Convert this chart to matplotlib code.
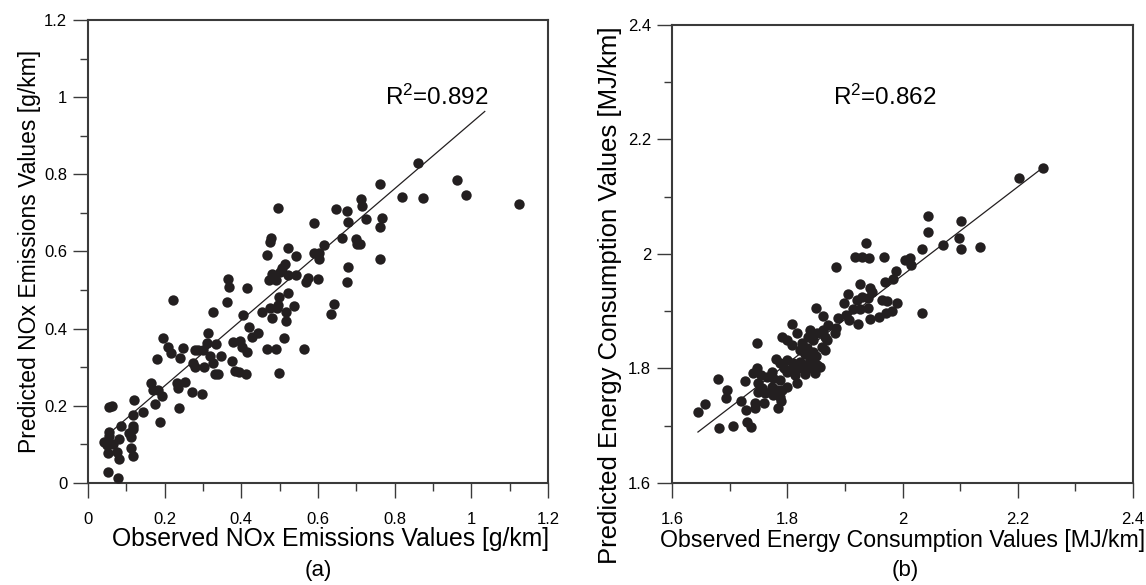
import matplotlib
matplotlib.use('Agg')
import matplotlib.pyplot as plt
from matplotlib.ticker import MultipleLocator, FuncFormatter

plt.rcParams['font.family'] = ['Liberation Sans', 'DejaVu Sans']
plt.rcParams['mathtext.fontset'] = 'custom'
plt.rcParams['mathtext.rm'] = 'Liberation Sans'
plt.rcParams['mathtext.default'] = 'regular'

# (a) NOx: observed vs predicted [g/km]
nox_obs = [0.222, 0.196, 0.209, 0.217, 0.248, 0.279, 0.287, 0.180, 0.240, 0.274,
           0.279, 0.164, 0.170, 0.183, 0.193, 0.175, 0.232, 0.235, 0.253, 0.271,
           0.297, 0.237, 0.055, 0.063, 0.120, 0.144, 0.188, 0.117, 0.086, 0.117,
           0.117, 0.107, 0.055, 0.055, 0.112, 0.081, 0.042, 0.050, 0.065, 0.112,
           0.052, 0.076, 0.117, 0.081, 0.052, 0.078,
           0.712, 0.715, 0.496, 0.647, 0.676, 0.590, 0.678, 0.725, 0.477, 0.475,
           0.522, 0.467, 0.543, 0.616, 0.590, 0.603, 0.603, 0.663, 0.699, 0.702,
           0.710, 0.678, 0.676, 0.514, 0.506, 0.501, 0.480, 0.522, 0.543, 0.472,
           0.490, 0.574, 0.569, 0.600, 0.365, 0.368, 0.415, 0.522, 0.498, 0.363,
           0.496, 0.493, 0.475, 0.454, 0.537, 0.642, 0.634, 0.326, 0.404, 0.517,
           0.517, 0.480, 0.420, 0.444, 0.428, 0.511, 0.564, 0.467, 0.490, 0.498,
           0.378, 0.397, 0.402, 0.415, 0.313, 0.310, 0.334, 0.300, 0.318, 0.347,
           0.376, 0.326, 0.303, 0.384, 0.394, 0.412, 0.331, 0.339,
           0.762, 0.861, 0.819, 0.874, 0.963, 0.986, 1.124, 0.767, 0.762, 0.762]
nox_pred = [0.474, 0.376, 0.353, 0.337, 0.350, 0.345, 0.345, 0.321, 0.324, 0.311,
            0.301, 0.259, 0.241, 0.241, 0.226, 0.205, 0.259, 0.246, 0.262, 0.236,
            0.231, 0.194, 0.197, 0.200, 0.215, 0.184, 0.158, 0.176, 0.148, 0.148,
            0.140, 0.130, 0.132, 0.122, 0.119, 0.114, 0.106, 0.098, 0.101, 0.091,
            0.078, 0.080, 0.070, 0.062, 0.029, 0.013,
            0.736, 0.718, 0.713, 0.710, 0.705, 0.674, 0.677, 0.684, 0.635, 0.625,
            0.609, 0.591, 0.588, 0.617, 0.596, 0.596, 0.581, 0.635, 0.632, 0.620,
            0.620, 0.560, 0.521, 0.568, 0.557, 0.547, 0.542, 0.539, 0.539, 0.526,
            0.526, 0.531, 0.521, 0.529, 0.529, 0.508, 0.505, 0.492, 0.482, 0.469,
            0.461, 0.454, 0.454, 0.443, 0.459, 0.464, 0.438, 0.443, 0.435, 0.443,
            0.420, 0.428, 0.404, 0.389, 0.378, 0.376, 0.347, 0.347, 0.347, 0.285,
            0.365, 0.368, 0.353, 0.340, 0.389, 0.363, 0.360, 0.345, 0.329, 0.329,
            0.316, 0.311, 0.301, 0.290, 0.288, 0.283, 0.283, 0.283,
            0.775, 0.829, 0.741, 0.739, 0.785, 0.746, 0.723, 0.687, 0.664, 0.581]
nox_fit_x = [0.057, 1.035]
nox_fit_y = [0.130, 0.963]

# (b) Energy consumption: observed vs predicted [MJ/km]
ec_obs = [2.244, 2.202, 2.135, 2.044, 2.102, 2.044, 2.098, 2.070, 2.102, 2.034,
          1.937, 1.918, 1.930, 1.942, 1.968, 2.005, 2.013, 2.015, 1.885, 1.989,
          1.984, 1.970, 1.926, 1.944, 1.947, 1.906, 1.899, 1.921, 1.930, 1.940,
          1.965, 1.973, 1.991, 1.982, 1.972, 1.959, 1.944, 2.034, 1.914, 1.926,
          1.940, 1.902, 1.907, 1.923, 1.888, 1.850, 1.862, 1.808, 1.817,
          1.871, 1.885, 1.883, 1.862, 1.866, 1.869, 1.860, 1.866, 1.857,
          1.748, 1.791, 1.800, 1.808, 1.836, 1.852, 1.822, 1.834, 1.845, 1.781,
          1.788, 1.800, 1.810, 1.822, 1.831, 1.840, 1.852, 1.748, 1.741, 1.755,
          1.774, 1.765, 1.775, 1.788, 1.800, 1.810, 1.814, 1.817, 1.848, 1.727,
          1.680, 1.749, 1.756, 1.749, 1.761, 1.774, 1.782, 1.775, 1.770, 1.791,
          1.788, 1.800, 1.695, 1.694, 1.720, 1.744, 1.744, 1.760, 1.789, 1.784,
          1.728, 1.645, 1.657, 1.682, 1.706, 1.730, 1.737,
          1.826, 1.840, 1.845, 1.830, 1.850, 1.838, 1.820, 1.795, 1.830]
ec_pred = [2.150, 2.133, 2.012, 2.066, 2.058, 2.038, 2.028, 2.016, 2.009, 2.009,
           2.019, 1.995, 1.995, 1.993, 1.995, 1.990, 1.993, 1.981, 1.977, 1.970,
           1.956, 1.951, 1.948, 1.941, 1.934, 1.930, 1.914, 1.920, 1.925, 1.923,
           1.920, 1.918, 1.914, 1.900, 1.897, 1.890, 1.886, 1.897, 1.904, 1.904,
           1.906, 1.893, 1.885, 1.878, 1.888, 1.906, 1.892, 1.878, 1.862,
           1.876, 1.871, 1.862, 1.867, 1.855, 1.850, 1.838, 1.832, 1.803,
           1.845, 1.855, 1.850, 1.841, 1.855, 1.862, 1.832, 1.836, 1.829, 1.817,
           1.810, 1.815, 1.810, 1.811, 1.806, 1.815, 1.806, 1.801, 1.792, 1.789,
           1.794, 1.785, 1.783, 1.780, 1.794, 1.801, 1.789, 1.775, 1.792, 1.778,
           1.782, 1.775, 1.766, 1.759, 1.757, 1.768, 1.762, 1.754, 1.759, 1.762,
           1.750, 1.768, 1.762, 1.748, 1.743, 1.740, 1.731, 1.740, 1.743, 1.731,
           1.728, 1.724, 1.738, 1.696, 1.700, 1.707, 1.698,
           1.845, 1.868, 1.850, 1.826, 1.822, 1.800, 1.800, 1.800, 1.790]
ec_fit_x = [1.645, 2.245]
ec_fit_y = [1.689, 2.152]

DOT = '#231f20'
SPINE = '#3a3a3a'

fig = plt.figure(figsize=(11.46, 5.85), dpi=100)
ax1 = fig.add_axes([0.0768, 0.1744, 0.4014, 0.7914])
ax2 = fig.add_axes([0.5864, 0.1744, 0.4023, 0.7829])

fmt = FuncFormatter(lambda v, p: f'{v:g}')


def style(ax, lo, hi):
    ax.set_xlim(lo, hi)
    ax.set_ylim(lo, hi)
    for a in (ax.xaxis, ax.yaxis):
        a.set_major_locator(MultipleLocator(0.2))
        a.set_minor_locator(MultipleLocator(0.1))
        a.set_major_formatter(fmt)
    ax.tick_params(which='major', direction='out', length=11, width=1,
                   color=SPINE, labelsize=12)
    ax.tick_params(which='minor', direction='out', length=6, width=1, color=SPINE)
    ax.tick_params(axis='x', which='major', pad=10)
    ax.tick_params(axis='y', which='major', pad=4)
    for s in ax.spines.values():
        s.set_color(SPINE)
        s.set_linewidth(1.5)


# (a)
ax1.scatter(nox_obs, nox_pred, s=56, color=DOT, linewidths=0, zorder=3)
ax1.plot(nox_fit_x, nox_fit_y, color='#231f20', lw=0.9, zorder=2)
style(ax1, 0, 1.2)
ax1.set_xlabel('Observed NOx Emissions Values [g/km]', fontsize=17.8)
ax1.xaxis.set_label_coords(0.527, -0.095)
ax1.set_ylabel('Predicted NOx Emissions Values [g/km]', fontsize=16.5, labelpad=2)
ax1.text(0.775, 1.0, 'R$^2$=0.892', fontsize=17.5, ha='left', va='center')
fig.text(0.2775, 0.025, '(a)', fontsize=16, ha='center', va='center')

# (b)
ax2.scatter(ec_obs, ec_pred, s=56, color=DOT, linewidths=0, zorder=3)
ax2.plot(ec_fit_x, ec_fit_y, color='#231f20', lw=0.9, zorder=2)
style(ax2, 1.6, 2.4)
ax2.set_xlabel('Observed Energy Consumption Values [MJ/km]', fontsize=16.7, labelpad=1)
ax2.set_ylabel('Predicted Energy Consumption Values [MJ/km]', fontsize=18.5)
ax2.yaxis.set_label_coords(-0.108, 0.41)
ax2.text(1.88, 2.274, 'R$^2$=0.862', fontsize=17.5, ha='left', va='center')
fig.text(0.79, 0.025, '(b)', fontsize=16, ha='center', va='center')

fig.savefig('out.png', dpi=100)
